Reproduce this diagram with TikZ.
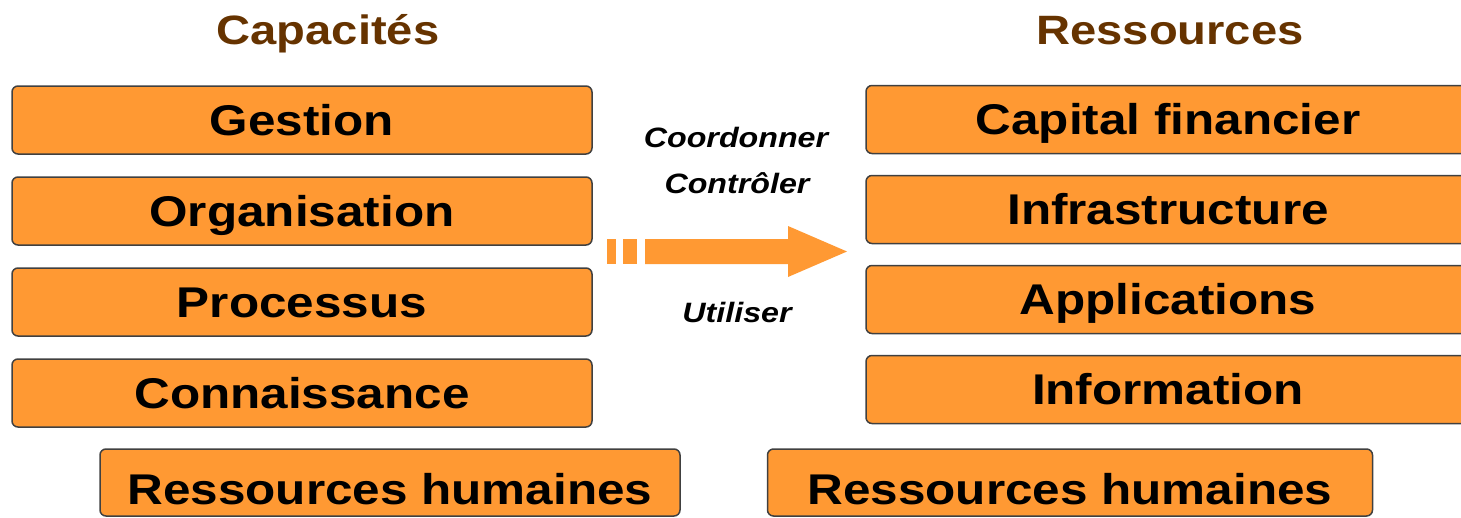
\documentclass[tikz,border=0pt]{standalone}
\usepackage{fontspec}
\setmainfont{Liberation Sans}[FakeStretch=1.15]
\usepackage{tikz}
\usetikzlibrary{positioning}

\definecolor{boxorange}{RGB}{255,153,51}
\definecolor{titlebrown}{RGB}{102,51,0}

\tikzset{
  box/.style={draw=black!75, line width=1.5pt, fill=boxorange, rounded corners=6pt,
    minimum width=580pt, minimum height=68pt, inner sep=0pt, outer sep=0pt,
    text height=30.8pt, text depth=0pt,
    font=\fontsize{43}{50}\selectfont\bfseries},
  resbox/.style={box, minimum width=604pt},
  rhbox/.style={box, minimum height=67pt, text height=43pt},
  title/.style={anchor=base, text=titlebrown, font=\fontsize{41}{48}\selectfont\bfseries},
  verb/.style={anchor=base, font=\fontsize{28}{32}\selectfont\bfseries\itshape}
}

\begin{document}
\begin{tikzpicture}[x=1pt,y=1pt]
\useasboundingbox (0,0) rectangle (1461,-517);
\clip (0,0) rectangle (1461,-517);

\node[title] (capacites) at (328,-44) {Capacités};
\node[title] (ressources) at (1170,-44) {Ressources};

% capacites
\node[box] (gestion) at (302,-120) {Gestion};
\node[box] (organisation) [below=23pt of gestion] {Organisation};
\node[box] (processus) [below=23pt of organisation] {Processus};
\node[box] (connaissance) [below=23pt of processus] {Connaissance};
\node[rhbox] (rhcap) at (390,-482.5) {Ressources humaines};

% ressources
\node[resbox] (capital) at (1168,-119.5) {Capital financier};
\node[resbox] (infra) [below=22pt of capital] {Infrastructure};
\node[resbox] (applications) [below=22pt of infra] {Applications};
\node[resbox] (information) [below=22pt of applications] {Information};
\node[rhbox, minimum width=605pt] (rhres) at (1070,-482.5) {Ressources humaines};

\node[verb] (coordonner) at (736,-147) {Coordonner};
\node[verb] (controler) at (737,-193) {Contrôler};
\node[verb] (utiliser) at (737,-322) {Utiliser};

% fleche
\fill[boxorange] (607,-239) rectangle (616,-264);
\fill[boxorange] (623,-239) rectangle (637,-264);
\fill[boxorange] (645,-239) -- (788,-239) -- (788,-226) -- (847,-251.5)
  -- (788,-277) -- (788,-264) -- (645,-264) -- cycle;

\end{tikzpicture}
\end{document}
